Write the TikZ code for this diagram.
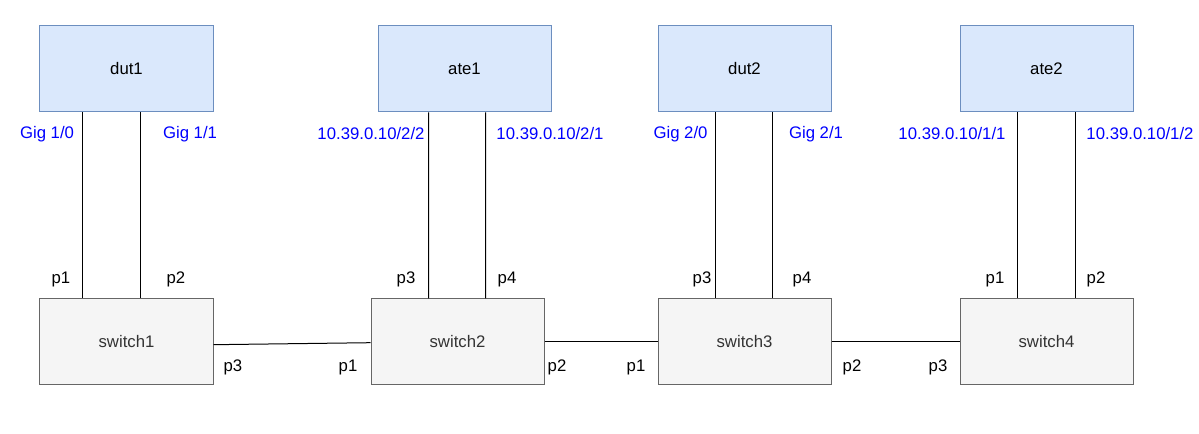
\documentclass[tikz,border=0pt]{standalone}
\usepackage{fontspec}
\setmainfont{Liberation Sans}
\definecolor{bfill}{HTML}{DAE8FC}
\definecolor{bdraw}{HTML}{6C8EBF}
\definecolor{gfill}{HTML}{F5F5F5}
\definecolor{gdraw}{HTML}{666666}
\definecolor{gtext}{HTML}{333333}
\definecolor{lblue}{HTML}{0000FF}
\begin{document}
\begin{tikzpicture}[x=1bp,y=-1bp,
  hostbox/.style={draw=bdraw,fill=bfill,line width=1bp,minimum width=173bp,minimum height=86bp,inner sep=0pt,font=\fontsize{16.8}{19}\selectfont},
  swbox/.style={draw=gdraw,fill=gfill,line width=1bp,minimum width=173bp,minimum height=86bp,inner sep=0pt,text=gtext,font=\fontsize{16.8}{19}\selectfont},
  iflbl/.style={text=lblue,inner sep=0pt,font=\fontsize{16.8}{19}\selectfont},
  plbl/.style={text=black,inner sep=0pt,font=\fontsize{16.8}{19}\selectfont},
  wire/.style={draw=black,line width=1bp}]
\useasboundingbox (0,0) rectangle (1199,434);
\node[hostbox] (dut1) at (126.5,69) {dut1};
\node[hostbox] (ate1) at (464.5,69) {ate1};
\node[hostbox] (dut2) at (744.5,69) {dut2};
\node[hostbox] (ate2) at (1046.5,69) {ate2};
\node[swbox] (sw1) at (126.5,342) {switch1};
\node[swbox] (sw2) at (457.5,342) {switch2};
\node[swbox] (sw3) at (744.5,342) {switch3};
\node[swbox] (sw4) at (1046.5,342) {switch4};
% vertical links
\draw[wire] ([xshift=43bp]dut1.south west) -- ([xshift=43bp]sw1.north west);
\draw[wire] ([xshift=101bp]dut1.south west) -- ([xshift=101bp]sw1.north west);
\draw[wire] ([xshift=51bp]ate1.south west) -- ([xshift=58bp]sw2.north west);
\draw[wire] ([xshift=108bp]ate1.south west) -- ([xshift=115bp]sw2.north west);
\draw[wire] ([xshift=58bp]dut2.south west) -- ([xshift=58bp]sw3.north west);
\draw[wire] ([xshift=115bp]dut2.south west) -- ([xshift=115bp]sw3.north west);
\draw[wire] ([xshift=58bp]ate2.south west) -- ([xshift=58bp]sw4.north west);
\draw[wire] ([xshift=116bp]ate2.south west) -- ([xshift=116bp]sw4.north west);
% horizontal links
\draw[wire] ([yshift=-2.7bp]sw1.east) -- ([yshift=-0.7bp]sw2.west);
\draw[wire] (sw2.east) -- (sw3.west);
\draw[wire] (sw3.east) -- (sw4.west);
% interface labels
\node[iflbl] (l1) at (47,134) {Gig 1/0};
\node[iflbl] (l2) at (190,134) {Gig 1/1};
\node[iflbl] (l3) at (371,134) {10.39.0.10/2/2};
\node[iflbl] (l4) at (550,134) {10.39.0.10/2/1};
\node[iflbl] (l5) at (680.5,134) {Gig 2/0};
\node[iflbl] (l6) at (816,134) {Gig 2/1};
\node[iflbl] (l7) at (952,134) {10.39.0.10/1/1};
\node[iflbl] (l8) at (1140,134) {10.39.0.10/1/2};
% port labels top
\node[plbl] (p1) at (61,279) {p1};
\node[plbl] (p2) at (176,279) {p2};
\node[plbl] (p3) at (406,279) {p3};
\node[plbl] (p4) at (507,279) {p4};
\node[plbl] (p5) at (702,279) {p3};
\node[plbl] (p6) at (802,279) {p4};
\node[plbl] (p7) at (995,279) {p1};
\node[plbl] (p8) at (1096,279) {p2};
% port labels bottom
\node[plbl] (q1) at (233,367) {p3};
\node[plbl] (q2) at (348,367) {p1};
\node[plbl] (q3) at (557,367) {p2};
\node[plbl] (q4) at (636,367) {p1};
\node[plbl] (q5) at (852,367) {p2};
\node[plbl] (q6) at (938,367) {p3};
\end{tikzpicture}
\end{document}
